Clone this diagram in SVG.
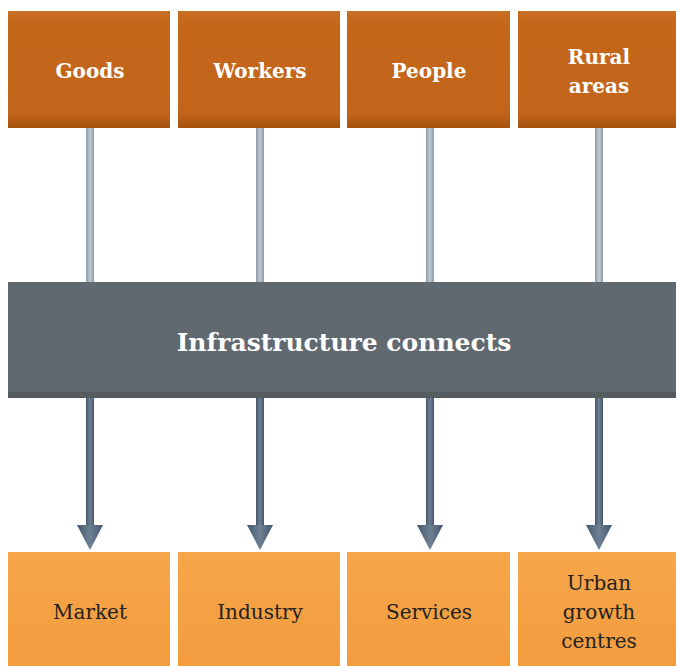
<svg xmlns="http://www.w3.org/2000/svg" width="676" height="666" viewBox="0 0 676 666">
<defs>
<linearGradient id="gTop" x1="0" y1="0" x2="0" y2="1">
<stop offset="0" stop-color="#C86E24"/><stop offset="0.1" stop-color="#C4671B"/><stop offset="0.88" stop-color="#C2651A"/><stop offset="1" stop-color="#A45210"/>
</linearGradient>
<linearGradient id="gBot" x1="0" y1="0" x2="0" y2="1">
<stop offset="0" stop-color="#F6A64A"/><stop offset="1" stop-color="#F29C3E"/>
</linearGradient>
<linearGradient id="gLine" x1="0" y1="0" x2="1" y2="0">
<stop offset="0" stop-color="#8E9AA6"/><stop offset="0.5" stop-color="#C2CAD2"/><stop offset="1" stop-color="#8E9AA6"/>
</linearGradient>
<linearGradient id="gArrow" x1="0" y1="0" x2="1" y2="0">
<stop offset="0" stop-color="#45576C"/><stop offset="0.5" stop-color="#6E8093"/><stop offset="1" stop-color="#45576C"/>
</linearGradient>
</defs>
<style>
.top{fill:url(#gTop)}
.bot{fill:url(#gBot)}
.tt{font-family:"DejaVu Serif","Liberation Serif",serif;font-weight:bold;font-size:20px;fill:#fff;text-anchor:middle}
.bt{font-family:"DejaVu Serif","Liberation Serif",serif;font-size:20px;fill:#222;text-anchor:middle}
.mt{font-family:"DejaVu Serif","Liberation Serif",serif;font-weight:bold;font-size:25px;fill:#fff;text-anchor:middle}
.ln{fill:url(#gLine)}
.ar{fill:url(#gArrow)}
</style>
<g id="connectors">
<rect class="ln" x="86" y="128" width="8" height="154"/>
<rect class="ln" x="256" y="128" width="8" height="154"/>
<rect class="ln" x="426" y="128" width="8" height="154"/>
<rect class="ln" x="595" y="128" width="8" height="154"/>
<g class="ar">
<rect x="86" y="398" width="8" height="128"/><polygon points="77,525 103,525 90,550"/>
<rect x="256" y="398" width="8" height="128"/><polygon points="247,525 273,525 260,550"/>
<rect x="426" y="398" width="8" height="128"/><polygon points="417,525 443,525 430,550"/>
<rect x="595" y="398" width="8" height="128"/><polygon points="586,525 612,525 599,550"/>
</g>
</g>
<g id="goods"><rect class="top" x="8" y="11" width="162" height="117"/><text class="tt" x="90" y="78">Goods</text></g>
<g id="workers"><rect class="top" x="178" y="11" width="162" height="117"/><text class="tt" x="260" y="78">Workers</text></g>
<g id="people"><rect class="top" x="347" y="11" width="163" height="117"/><text class="tt" x="429" y="78">People</text></g>
<g id="rural"><rect class="top" x="518" y="11" width="158" height="117"/><text class="tt" x="599" y="64">Rural</text><text class="tt" x="599" y="93">areas</text></g>
<g id="infrastructure"><rect x="8" y="282" width="668" height="116" fill="#5F696F"/><rect x="8" y="392" width="668" height="6" fill="#545C60"/><text class="mt" x="344" y="351">Infrastructure connects</text></g>
<g id="market"><rect class="bot" x="8" y="552" width="162" height="114"/><text class="bt" x="90" y="619">Market</text></g>
<g id="industry"><rect class="bot" x="178" y="552" width="162" height="114"/><text class="bt" x="260" y="619">Industry</text></g>
<g id="services"><rect class="bot" x="347" y="552" width="163" height="114"/><text class="bt" x="429" y="619">Services</text></g>
<g id="urban"><rect class="bot" x="518" y="552" width="158" height="114"/><text class="bt" x="599" y="590">Urban</text><text class="bt" x="599" y="619">growth</text><text class="bt" x="599" y="648">centres</text></g>
</svg>
